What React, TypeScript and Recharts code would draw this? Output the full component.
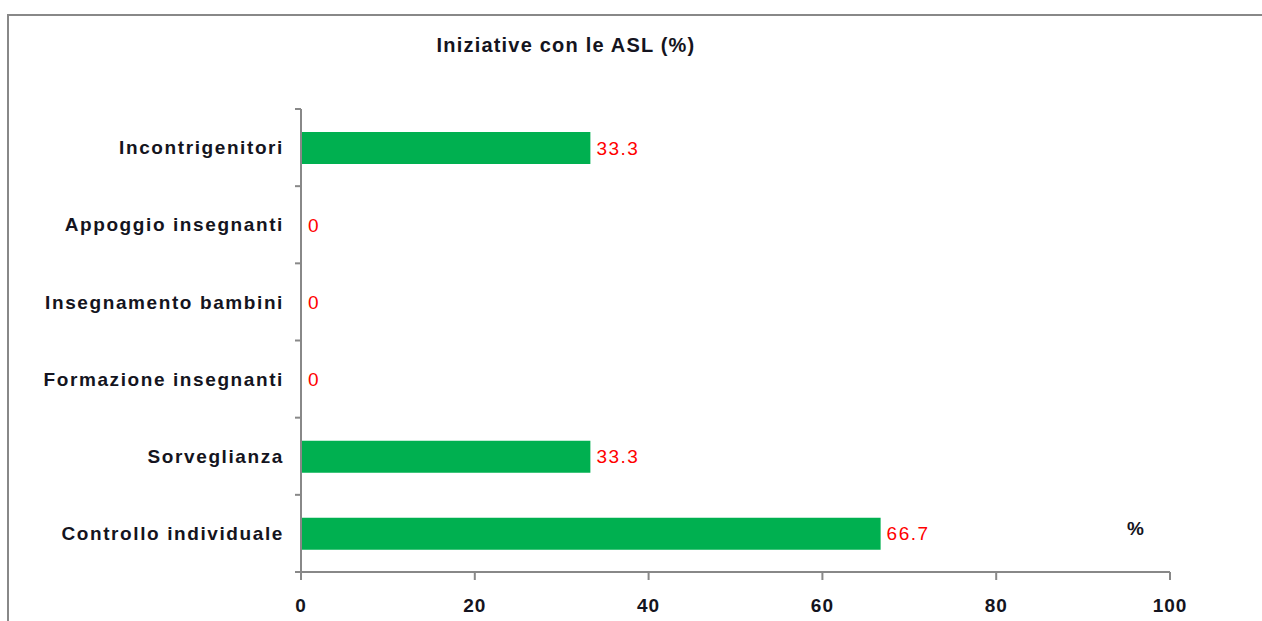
import React from "react";
import { BarChart, Bar, XAxis, YAxis, LabelList, Cell } from "recharts";

const CATEGORIES = [
  "Incontrigenitori",
  "Appoggio insegnanti",
  "Insegnamento bambini",
  "Formazione insegnanti",
  "Sorveglianza",
  "Controllo individuale",
];
const VALUES = [33.3, 0, 0, 0, 33.3, 66.7];
const X_TICKS = [0, 20, 40, 60, 80, 100];

const data = CATEGORIES.map((name, i) => ({ name, value: VALUES[i], label: String(VALUES[i]) }));

const FONT = "'Liberation Sans', Arial, sans-serif";
const AXIS = "#888888";
const TEXT = "#141420";
const GREEN = "#00B050";
const LABEL_GAP = 17;

// category label plus Excel-style tick marks on the band edges
const CategoryTick = (props: any) => {
  const { x, y, payload, index, visibleTicksCount } = props;
  const half = payload.offset ?? 0;
  const ax = x + LABEL_GAP;
  const last = index === visibleTicksCount - 1;
  return (
    <g>
      <line x1={ax - 6} x2={ax} y1={y - half} y2={y - half} stroke={AXIS} strokeWidth={2} />
      {last && <line x1={ax - 6} x2={ax} y1={y + half} y2={y + half} stroke={AXIS} strokeWidth={2} />}
      <text
        x={x}
        y={y}
        dy="0.35em"
        textAnchor="end"
        fill={TEXT}
        fontFamily={FONT}
        fontWeight="bold"
        fontSize={19}
        letterSpacing={1.6}
      >
        {payload.value}
      </text>
    </g>
  );
};

const ValueLabel = (props: any) => {
  const { x, y, width, height, value } = props;
  return (
    <text
      x={Number(x) + Number(width) + 6}
      y={Number(y) + Number(height) / 2}
      dy="0.35em"
      fill="#FF0000"
      fontFamily={FONT}
      fontSize={19}
      letterSpacing={1.5}
    >
      {value}
    </text>
  );
};

export default function App() {
  return (
    <div style={{ position: "absolute", left: 0, top: 0, width: 1262, height: 621, background: "#fff" }}>
      <div
        style={{
          position: "absolute",
          left: 7,
          top: 14,
          right: 0,
          bottom: 0,
          borderTop: `2px solid ${AXIS}`,
          borderLeft: `2px solid ${AXIS}`,
        }}
      />
      <div
        style={{
          position: "absolute",
          left: 366,
          width: 400,
          top: 34,
          textAlign: "center",
          fontFamily: FONT,
          fontWeight: "bold",
          fontSize: 20,
          letterSpacing: 1.2,
          color: TEXT,
        }}
      >
        Iniziative con le ASL (%)
      </div>
      <div
        style={{
          position: "absolute",
          left: 1127,
          top: 518,
          fontFamily: FONT,
          fontWeight: "bold",
          fontSize: 19,
          color: TEXT,
        }}
      >
        %
      </div>
      <div style={{ position: "absolute", left: 0, top: 0 }}>
        <BarChart
          width={1262}
          height={621}
          data={data}
          layout="vertical"
          margin={{ top: 109, right: 92, bottom: 0, left: 0 }}
        >
          <XAxis
            type="number"
            domain={[0, 100]}
            ticks={X_TICKS}
            height={49}
            stroke={AXIS}
            strokeWidth={2}
            tickSize={8}
            tickMargin={19}
            tick={{ fill: TEXT, fontFamily: FONT, fontWeight: "bold", fontSize: 19, letterSpacing: 1 }}
          />
          <YAxis
            type="category"
            dataKey="name"
            width={301}
            stroke={AXIS}
            strokeWidth={2}
            tickLine={false}
            tickSize={0}
            tickMargin={LABEL_GAP}
            interval={0}
            tick={<CategoryTick />}
          />
          {/* minPointSize keeps the zero rows so their "0" labels are drawn */}
          <Bar dataKey="value" fill={GREEN} barSize={32} minPointSize={1} isAnimationActive={false}>
            {data.map((d) => (
              <Cell key={d.name} fill={d.value === 0 ? "transparent" : GREEN} />
            ))}
            <LabelList dataKey="label" content={<ValueLabel />} />
          </Bar>
        </BarChart>
      </div>
    </div>
  );
}
